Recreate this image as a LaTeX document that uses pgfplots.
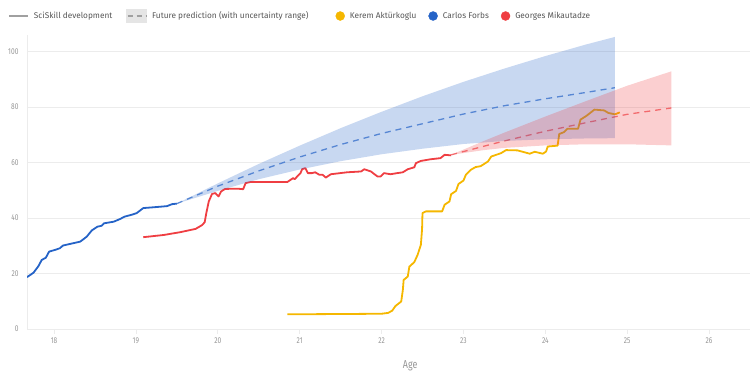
\documentclass[border=0pt]{standalone}
\usepackage{fontspec}
\setmainfont{Fira Sans}
\newfontfamily\condfont[FakeStretch=0.78]{Fira Sans}
\usepackage{pgfplots}
\pgfplotsset{compat=1.18}
\definecolor{carlos}{RGB}{37,99,199}
\definecolor{georges}{RGB}{239,62,66}
\definecolor{kerem}{RGB}{245,183,0}
\definecolor{gridc}{RGB}{236,236,236}
\definecolor{tickc}{RGB}{150,150,150}
\definecolor{legtext}{RGB}{85,85,85}
\definecolor{leggray}{RGB}{160,160,160}
\definecolor{legbox}{RGB}{229,229,229}
\begin{document}
\begin{tikzpicture}
\useasboundingbox (-27bp,-43bp) rectangle (723bp,329bp);
\begin{axis}[
  at={(0,0)}, anchor=south west,
  scale only axis, width=723bp, height=294bp,
  xmin=17.67, xmax=26.5, ymin=0, ymax=106,
  xtick={18,19,...,26}, ytick={0,20,...,100},
  axis lines*=left,
  axis line style={draw=gridc, line width=0.8bp},
  ymajorgrids, grid style={draw=gridc, line width=0.8bp},
  tick align=outside, major tick length=5bp,
  xtick style={draw=gridc, line width=0.8bp},
  ytick style={draw=none},
  /pgf/number format/assume math mode=true,
  tick label style={font=\condfont\fontsize{8.5}{10}\selectfont, text=tickc},
  xlabel={Age},
  xlabel style={at={(axis description cs:0.53,0)}, anchor=north, yshift=-31bp, inner sep=0pt, font=\condfont\fontsize{11.5}{13}\selectfont, text=tickc},
  legend style={at={(axis description cs:-0.0263,1.0646)}, anchor=west,
    draw=none, fill=none, inner sep=0pt, outer sep=0pt,
    legend columns=-1, font=\fontsize{8.3}{10}\selectfont, text=legtext,
    /tikz/every odd column/.append style={column sep=5bp},
    /tikz/every even column/.append style={column sep=12bp},
    nodes={inner sep=0pt}},
]
% legend
\addlegendimage{legend image code/.code={\draw[leggray, line width=2bp] (0bp,0bp) -- (19bp,0bp);}}
\addlegendentry{SciSkill development\rule{2bp}{0pt}}
\addlegendimage{legend image code/.code={\fill[legbox] (0bp,-6.5bp) rectangle (20bp,6.5bp); \draw[leggray, line width=1.3bp, dash pattern=on 5bp off 4bp] (1bp,0bp) -- (20bp,0bp);}}
\addlegendentry{Future prediction (with uncertainty range)\rule{15bp}{0pt}}
\addlegendimage{legend image code/.code={\fill[kerem] (4.5bp,0bp) circle (4.5bp);}}
\addlegendentry{Kerem Aktürkoglu}
\addlegendimage{legend image code/.code={\fill[carlos] (4.5bp,0bp) circle (4.5bp);}}
\addlegendentry{Carlos Forbs}
\addlegendimage{legend image code/.code={\fill[georges] (4.5bp,0bp) circle (4.5bp);}}
\addlegendentry{Georges Mikautadze}

% Kerem Akturkoglu
\addplot[forget plot, kerem, line width=1.8bp, line join=round] coordinates {
(20.85,5.3) (21.50,5.4) (22.00,5.5) (22.08,5.8) (22.13,6.6) (22.17,8.3) (22.24,9.9)
(22.26,14) (22.27,17.7) (22.32,18.9) (22.34,22.5) (22.40,24.1) (22.44,26.7) (22.48,30.3)
(22.495,36) (22.50,41.8) (22.54,42.4) (22.74,42.4) (22.77,44.8) (22.83,46.0) (22.85,48.6)
(22.91,49.8) (22.94,52.3) (23.00,53.5) (23.03,55.6) (23.09,57.4) (23.15,58.4) (23.21,58.7)
(23.30,60.4) (23.34,62.2) (23.40,62.8) (23.46,63.4) (23.52,64.5) (23.66,64.4) (23.81,63.2)
(23.87,63.9) (23.97,63.2) (24.01,64.0) (24.03,65.8) (24.15,66.1) (24.17,70.3) (24.23,71.0)
(24.27,72.2) (24.40,72.2) (24.43,75.5) (24.50,76.8) (24.60,79.1) (24.72,78.8) (24.77,77.9)
(24.85,77.4) (24.91,78.1)};

% Georges Mikautadze
\addplot[forget plot, georges, line width=1.8bp, line join=round] coordinates {
(19.09,33.1) (19.34,33.9) (19.54,34.9) (19.73,36.1) (19.81,37.5) (19.84,38.5) (19.86,41.8)
(19.89,46.0) (19.93,48.7) (19.97,49.0) (20.01,47.8) (20.04,49.6) (20.09,50.5) (20.24,50.6)
(20.31,50.4) (20.34,52.6) (20.40,53.0) (20.85,53.0) (20.89,53.8) (20.92,54.4) (20.94,54.0)
(20.97,55.0) (21.01,56.2) (21.03,57.6) (21.07,58.0) (21.10,56.2) (21.15,56.2) (21.19,56.5)
(21.24,55.6) (21.28,55.6) (21.32,54.6) (21.38,55.8) (21.58,56.5) (21.75,56.8) (21.79,57.6)
(21.87,56.8) (21.95,55.0) (21.99,55.0) (22.03,56.2) (22.11,55.8) (22.19,56.2) (22.26,56.5)
(22.32,57.6) (22.40,58.3) (22.42,59.8) (22.48,60.6) (22.60,61.2) (22.72,61.6) (22.77,62.8)
(22.85,62.6)};

% Carlos Forbs
\addplot[forget plot, carlos, line width=1.8bp, line join=round] coordinates {
(17.67,18.7) (17.75,20.3) (17.81,22.7) (17.85,24.9) (17.90,25.7) (17.94,27.9) (18.01,28.5)
(18.07,29.1) (18.11,30.1) (18.20,30.7) (18.32,31.5) (18.40,33.3) (18.46,35.5) (18.53,36.9)
(18.58,37.2) (18.61,38.1) (18.73,38.7) (18.81,39.7) (18.86,40.5) (18.95,41.2) (19.01,41.8)
(19.09,43.6) (19.22,43.9) (19.38,44.3) (19.44,45.0) (19.50,45.2)};

% predictions (dashed)
\addplot[forget plot, carlos!70!white, line width=1.3bp, dash pattern=on 6bp off 5bp] coordinates {
(19.5,45.2) (20.0,51.5) (20.5,57.0) (21.0,62.0) (21.5,66.5) (22.0,70.5) (22.5,74.0)
(23.0,77.5) (23.5,80.5) (24.0,83.0) (24.5,85.3) (24.85,87.0)};
\addplot[forget plot, georges!70!white, line width=1.3bp, dash pattern=on 6bp off 5bp] coordinates {
(22.85,62.8) (23.25,65.9) (23.5,67.8) (24.0,71.3) (24.5,74.4) (25.0,77.4) (25.54,79.7)};

% uncertainty bands
\addplot[forget plot, draw=none, fill=carlos, fill opacity=0.25] coordinates {
(19.5,45.2) (20.0,52.5) (20.5,59.5) (21.0,66.1) (21.5,72.4) (22.0,78.3) (22.5,83.9)
(23.0,89.1) (23.5,93.9) (24.0,98.4) (24.5,102.6) (24.85,105.3)
(24.85,68.8) (24.5,68.7) (24.0,68.4) (23.5,67.8) (23.0,66.7) (22.5,65.0) (22.0,63.0)
(21.5,60.5) (21.0,57.5) (20.5,54.0) (20.0,49.8) (19.5,45.2)} -- cycle;
\addplot[forget plot, draw=none, fill=georges, fill opacity=0.25] coordinates {
(22.85,62.8) (23.25,67.8) (23.5,70.8) (24.0,76.6) (24.5,82.2) (25.0,87.7) (25.54,92.9)
(25.54,66.2) (25.0,66.6) (24.5,66.6) (24.0,66.2) (23.5,65.3) (23.25,64.5) (22.85,62.8)} -- cycle;
\end{axis}
\end{tikzpicture}
\end{document}
